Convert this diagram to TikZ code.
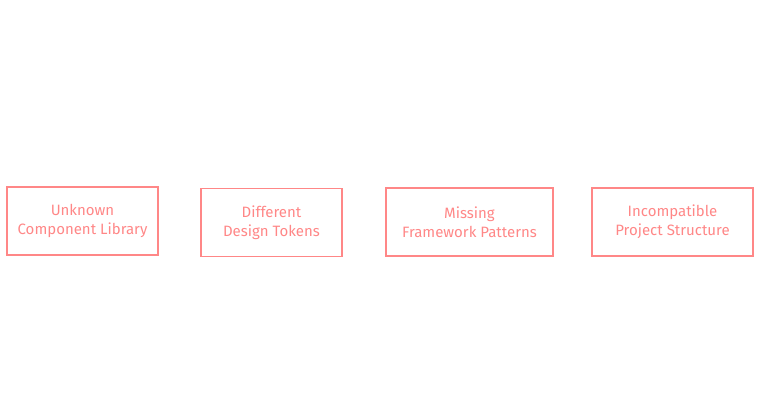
\documentclass[tikz,border=0pt]{standalone}
\usepackage{fontspec}
\setmainfont{Fira Sans}
\definecolor{coral}{HTML}{FF8787}

\begin{document}
\begin{tikzpicture}[
   x=1pt, y=-1pt,
   problem box/.style={draw=coral, line width=1.4pt, text=coral,
      minimum height=68pt, align=center, inner sep=2pt,
      font=\fontsize{15}{19}\selectfont}
]
\useasboundingbox (0,0) rectangle (760,417);
\node[problem box, minimum width=151pt] (library)   at (82.5,221)  {Unknown\\Component Library};
\node[problem box, minimum width=141pt] (tokens)    at (271.5,222.5) {Different\\Design Tokens};
\node[problem box, minimum width=167pt] (patterns)  at (469.5,222) {Missing\\Framework Patterns};
\node[problem box, minimum width=161pt] (structure) at (672.5,222) {Incompatible\\Project Structure};
\end{tikzpicture}
\end{document}
